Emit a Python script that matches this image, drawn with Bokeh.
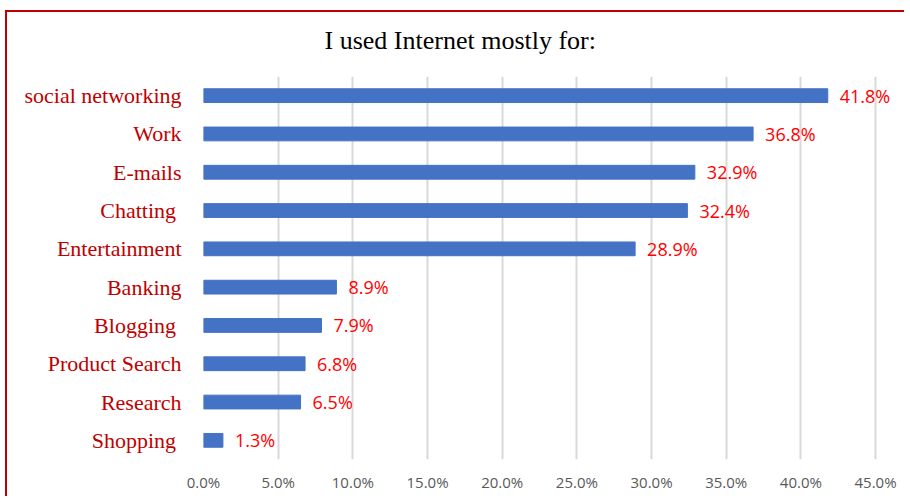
from bokeh.plotting import figure
from bokeh.models import (ColumnDataSource, FactorRange, Range1d, FixedTicker, PrintfTickFormatter,
                          Title, InlineStyleSheet)
from bokeh.core.properties import value
from bokeh.embed import file_html
from bokeh.resources import INLINE

categories = ["social networking", "Work", "E-mails", "Chatting ", "Entertainment",
              "Banking", "Blogging ", "Product Search", "Research", "Shopping "]
values = [41.8, 36.8, 32.9, 32.4, 28.9, 8.9, 7.9, 6.8, 6.5, 1.3]
labels = ["%.1f%%" % v for v in values]
tick_values = [0, 5, 10, 15, 20, 25, 30, 35, 40, 45]
title_text = "I used Internet mostly for:"

src = ColumnDataSource(dict(cat=categories, val=values, lab=labels))

W, H = 902, 494
p = figure(width=W, height=H, output_backend="svg", toolbar_location=None, title=None,
           y_range=FactorRange(factors=list(reversed(categories))),
           x_range=Range1d(0, 46.67),
           min_border_left=203, min_border_right=2, min_border_top=76, min_border_bottom=33)
p.stylesheets = [InlineStyleSheet(css=(
    ":host { position: relative; }"
    ":host::after { content: ''; position: absolute; left: 5px; top: 10px; width: 897px; height: 484px;"
    " border-left: 2px solid #c00000; border-top: 2px solid #c00000; pointer-events: none; z-index: 10; }"))]
p.outline_line_color = None
p.background_fill_color = "white"
p.border_fill_color = "white"

p.hbar(y="cat", right="val", left=0, height=0.36, color="#4472c4", source=src)
p.text(x="val", y="cat", text="lab", source=src, x_offset=12, text_baseline="middle",
       text_align="left", text_color="#ff0000", text_font=value("Open Sans"),
       text_font_size="18px")

main_title = Title(text=title_text, text_font="Liberation Serif", text_font_size="26px",
                   text_font_style="normal", text_color="black", align="left",
                   offset=121, standoff=43)
p.add_layout(main_title, "above")

p.xaxis.ticker = FixedTicker(ticks=tick_values)
p.xaxis.formatter = PrintfTickFormatter(format="%.1f%%")
p.xaxis.axis_line_color = None
p.xaxis.major_tick_line_color = None
p.xaxis.minor_tick_line_color = None
p.xaxis.major_tick_out = 0
p.xaxis.major_tick_in = 0
p.xaxis.major_label_standoff = 12
p.xaxis.major_label_text_font = "Open Sans"
p.xaxis.major_label_text_font_size = "15px"
p.xaxis.major_label_text_color = "#595959"

p.yaxis.axis_line_color = None
p.yaxis.major_tick_line_color = None
p.yaxis.minor_tick_line_color = None
p.yaxis.major_tick_out = 0
p.yaxis.major_tick_in = 0
p.yaxis.major_label_standoff = 22
p.yaxis.major_label_text_font = "Liberation Serif"
p.yaxis.major_label_text_font_size = "22px"
p.yaxis.major_label_text_color = "#c00000"

p.xgrid.grid_line_color = "#d9d9d9"
p.xgrid.grid_line_width = 2
p.ygrid.grid_line_color = None

open("out.html", "w").write(file_html(p, INLINE))
